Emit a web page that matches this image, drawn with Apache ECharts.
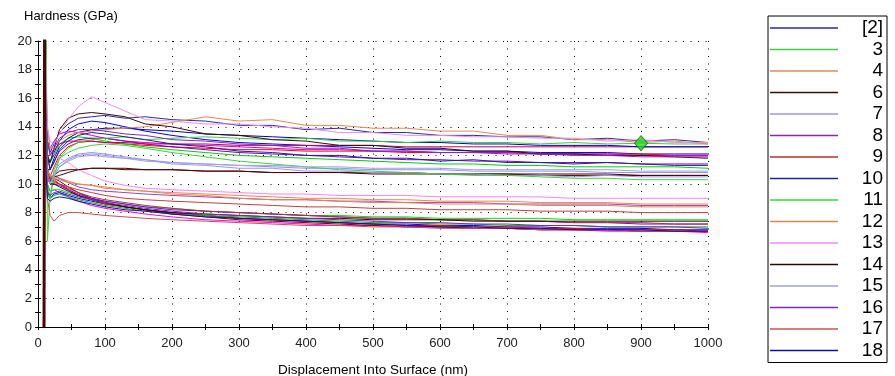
<!DOCTYPE html>
<html>
<head>
<meta charset="utf-8">
<script src="https://cdn.jsdelivr.net/npm/echarts@6/dist/echarts.min.js"></script>
<style>
html,body{margin:0;padding:0;background:#fff;}
#chart{width:895px;height:376px;}
</style>
</head>
<body>
<div id="chart"></div>
<script>
// Displacement sample positions (nm)
const xs = [9, 10, 12, 14, 18, 24, 32, 45, 60, 80, 100, 130, 160, 200, 250, 300, 350, 400, 450, 500, 550, 600, 650, 700, 750, 800, 850, 900, 950, 1000];

// Legend names
const legendNames = ['[2]', '3', '4', '6', '7', '8', '9', '10', '11', '12', '13', '14', '15', '16', '17', '18'];

// Hardness (GPa) per test, legend series
const h2  = [null,25,16,13,12.2,12.8,13.6,14.2,14.6,14.7,14.8,14.6,14.7,14.5,14.4,14.1,14.1,13.8,13.9,13.6,13.6,13.4,13.4,13.3,13.3,13.1,13.2,13.0,13.1,12.9];
const h3  = [null,25,20,10,9,10.5,11.8,12.5,12.9,13.1,13.2,13.3,13.1,13.2,13.3,13.2,13.1,13.2,13.0,13.0,12.9,13.0,12.9,12.9,12.8,12.9,12.8,12.85,12.8,12.8];
const h4  = [null,25,17,14,12.5,12.6,13.0,13.4,13.6,13.7,13.8,13.9,14.0,14.3,14.7,14.4,14.5,14.1,14.1,13.9,13.9,13.7,13.7,13.4,13.4,13.1,13.1,12.9,13.0,12.8];
const h6  = [null,25,15,12,11.5,12.5,13.8,14.6,14.9,15.0,14.9,14.7,14.2,14.0,13.5,13.4,13.1,13.0,12.7,12.7,12.5,12.5,12.3,12.3,12.1,12.1,12.0,12.0,11.9,11.8];
const h7  = [null,25,14,11,10,10.5,11.2,11.7,12.0,12.1,12.0,11.8,11.7,11.4,11.3,11.1,11.1,10.9,10.9,10.8,10.8,10.7,10.7,10.6,10.6,10.5,10.6,10.5,10.5,10.5];
const h8  = [null,25,16,13,12,12.5,13.2,13.6,13.8,13.8,13.7,13.5,13.4,13.1,13.0,12.8,12.7,12.5,12.5,12.3,12.3,12.2,12.2,12.1,12.1,12.0,12.0,11.9,11.9,11.9];
const h9  = [null,25,14,11,10.3,10.2,10.0,9.7,9.4,9.1,8.9,8.7,8.5,8.3,8.1,8.0,7.9,7.8,7.7,7.6,7.6,7.5,7.5,7.4,7.4,7.3,7.3,7.3,7.2,7.2];
const h10 = [null,25,15,12,11,11.5,12.4,13.0,13.4,13.6,13.5,13.3,13.1,12.8,12.6,12.3,12.2,12.0,12.0,11.8,11.8,11.6,11.7,11.5,11.5,11.4,11.5,11.4,11.3,11.3];
const h11 = [null,null,25,6,9,11,11.8,12.2,12.5,12.7,12.8,12.7,12.5,12.2,11.9,11.6,11.4,11.2,11.0,10.9,10.8,10.7,10.6,10.6,10.5,10.4,10.4,10.3,10.3,10.3];
const h12 = [null,25,13,11,10.5,10.4,10.3,10.1,10.0,9.9,9.8,9.6,9.5,9.3,9.2,9.0,8.9,8.9,8.8,8.7,8.7,8.6,8.6,8.6,8.5,8.5,8.5,8.4,8.4,8.4];
const h13 = [null,25,17,14,13,12.8,13.5,14.5,15.4,16.1,15.7,15.1,14.5,14.4,14.2,14.2,14.0,13.9,13.6,13.6,13.4,13.4,13.3,13.3,13.2,13.2,13.0,13.1,12.9,12.9];
const h14 = [null,25,13,10.5,10,10,9.8,9.5,9.2,8.9,8.7,8.4,8.2,8.0,7.9,7.8,7.7,7.6,7.6,7.5,7.5,7.5,7.4,7.4,7.4,7.4,7.4,7.4,7.4,7.4];
const h15 = [null,25,13,10.5,10,10.6,11.2,11.6,11.9,12.0,11.9,11.8,11.6,11.5,11.4,11.3,11.3,11.2,11.2,11.1,11.1,11.1,11.0,11.0,11.0,11.0,11.0,10.9,10.9,10.9];
const h16 = [null,25,12,9.5,9.2,9.4,9.5,9.3,9.1,8.9,8.7,8.5,8.3,8.1,7.9,7.8,7.7,7.6,7.5,7.4,7.3,7.3,7.2,7.2,7.1,7.1,7.0,7.0,7.0,6.9];
const h17 = [null,25,12,9,7.8,7.4,7.8,8.0,8.0,7.9,7.8,7.7,7.6,7.5,7.4,7.3,7.2,7.1,7.1,7.0,7.0,6.9,6.9,6.9,6.8,6.8,6.8,6.7,6.7,6.7];
const h18 = [null,25,11,9,8.8,9.0,9.1,9.0,8.8,8.6,8.4,8.2,8.1,7.9,7.7,7.6,7.5,7.4,7.3,7.2,7.1,7.0,7.0,6.9,6.9,6.8,6.8,6.8,6.7,6.7];

// Additional tests (not listed in legend)
const e1  = [null,25,15,12,11.5,12.2,13.0,13.8,14.2,14.4,14.3,14.0,13.7,13.4,13.1,12.9,12.8,12.7,12.6,12.5,12.4,12.4,12.3,12.3,12.2,12.2,12.2,12.1,12.1,12.1];
const e2  = [null,25,14,11,10.5,11.2,12.0,12.6,12.9,13.0,12.9,12.8,12.7,12.6,12.5,12.4,12.4,12.3,12.3,12.3,12.2,12.2,12.2,12.2,12.1,12.1,12.1,12.1,12.0,12.0];
const e3  = [null,25,16,13,12.5,13,13.5,13.7,13.6,13.4,13.2,13.0,12.9,12.8,12.7,12.6,12.5,12.4,12.4,12.3,12.3,12.2,12.2,12.2,12.1,12.1,12.1,12.0,12.0,12.0];
const e4  = [null,25,13,10.5,10.2,10.6,10.9,11.0,11.0,11.1,11.1,11.0,11.0,11.0,10.9,10.9,10.8,10.8,10.8,10.8,10.8,10.7,10.7,10.7,10.7,10.7,10.7,10.6,10.6,10.6];
const e5  = [null,25,15,12,11.5,12,12.8,13.2,13.3,13.2,13.0,12.8,12.6,12.4,12.2,12.0,11.9,11.8,11.7,11.6,11.5,11.4,11.4,11.3,11.3,11.2,11.2,11.2,11.2,11.1];
const e6  = [null,25,15,12,11,11.6,12.3,12.8,13.1,13.2,13.2,13.0,12.8,12.6,12.4,12.2,12.1,12.0,11.9,11.8,11.7,11.7,11.6,11.6,11.5,11.5,11.5,11.4,11.4,11.4];
const e7  = [null,25,14,12,12,12.4,12.8,13.0,13.0,13.0,12.9,12.9,12.8,12.8,12.8,12.7,12.7,12.7,12.7,12.7,12.6,12.6,12.6,12.6,12.6,12.6,12.6,12.6,12.6,12.6];
const e8  = [null,25,13,11,11,11.8,12.6,13.2,13.6,13.8,13.9,13.9,13.8,13.7,13.5,13.4,13.3,13.2,13.1,13.0,12.9,12.9,12.8,12.8,12.7,12.7,12.7,12.6,12.6,12.6];
const e9  = [null,25,13,11,10,10.8,11.4,11.8,12.1,12.2,12.1,11.9,11.7,11.5,11.4,11.3,11.2,11.1,11.1,11.0,11.0,11.0,10.9,10.9,10.9,10.9,10.8,10.8,10.8,10.8];
const e10 = [null,25,13,10,9.5,9.6,9.4,9.1,8.8,8.5,8.3,8.1,7.9,7.7,7.5,7.4,7.3,7.2,7.1,7.1,7.0,7.0,6.9,6.9,6.8,6.8,6.7,6.7,6.7,6.6];
const e11 = [null,25,12,9.5,9,9.3,9.4,9.2,9.0,8.8,8.6,8.4,8.2,8.0,7.8,7.6,7.5,7.4,7.3,7.2,7.2,7.1,7.1,7.0,7.0,6.9,6.9,6.9,6.8,6.8];
const e12 = [null,25,13,10,9.5,9.6,9.6,9.4,9.2,9.0,8.8,8.6,8.4,8.3,8.1,8.0,7.9,7.8,7.8,7.7,7.7,7.6,7.6,7.6,7.6,7.5,7.5,7.5,7.5,7.5];
const e13 = [null,25,14,11,10.5,10.3,10.0,9.6,9.2,8.9,8.6,8.4,8.2,8.0,7.8,7.6,7.5,7.4,7.3,7.2,7.1,7.1,7.0,7.0,6.9,6.9,6.8,6.8,6.8,6.7];
const e14 = [null,25,14,11,10.2,10.4,10.2,9.8,9.4,9.0,8.7,8.4,8.2,7.9,7.7,7.5,7.4,7.3,7.2,7.1,7.0,7.0,6.9,6.9,6.8,6.8,6.8,6.7,6.7,6.7];
const e15 = [null,25,14,11,10.6,10.5,10.4,10.2,10.0,9.9,9.7,9.6,9.5,9.4,9.3,9.2,9.1,9.0,9.0,8.9,8.9,8.8,8.8,8.8,8.7,8.7,8.7,8.6,8.6,8.6];
const e16 = [null,25,17,14,12.5,12,11.8,11.5,11.0,10.6,10.2,9.9,9.7,9.6,9.5,9.4,9.3,9.3,9.2,9.2,9.2,9.1,9.1,9.1,9.1,9.0,9.0,9.0,9.0,9.0];
const e17 = [null,25,13,10.5,10,10.1,10.0,9.8,9.6,9.4,9.2,9.0,8.9,8.8,8.7,8.6,8.5,8.4,8.4,8.3,8.3,8.2,8.2,8.2,8.1,8.1,8.1,8.0,8.0,8.0];
const e18 = [null,25,14,10.5,10,10,9.9,9.6,9.3,9.0,8.8,8.6,8.4,8.2,8.1,8.0,7.9,7.8,7.7,7.6,7.6,7.5,7.5,7.4,7.4,7.3,7.3,7.2,7.2,7.2];
const e19 = [null,25,12,9.2,9,9.2,9.3,9.1,8.9,8.7,8.5,8.3,8.1,7.9,7.8,7.7,7.6,7.5,7.4,7.3,7.3,7.2,7.2,7.1,7.1,7.1,7.0,7.0,7.0,7.0];
const e20 = [null,25,14,11,10.5,10.6,10.4,10.1,9.8,9.6,9.5,9.4,9.3,9.2,9.1,9.0,8.9,8.9,8.8,8.8,8.7,8.7,8.7,8.6,8.6,8.6,8.6,8.5,8.5,8.5];
const e21 = [0,25,14,11,10.4,10.5,10.6,10.8,11.0,11.1,11.1,11.1,11.0,11.0,10.9,10.9,10.8,10.8,10.8,10.7,10.7,10.7,10.7,10.7,10.6,10.6,10.6,10.6,10.6,10.6];
// Start-of-test spike (off-scale rise)
const spike = [0,25,null,null,null,null,null,null,null,null,null,null,null,null,null,null,null,null,null,null,null,null,null,null,null,null,null,null,null,null];

// Highlighted point on test 3
const markerPoint = [900, 12.85];

// Axis ranges / tick steps
const xMin = 0, xMax = 1000, xStep = 100;
const yMin = 0, yMax = 20, yStep = 2;

const legendSeries = [
  ['[2]', h2, '#2a2aa8'], ['3', h3, '#3ccf3c'], ['4', h4, '#e08a50'], ['6', h6, '#3a0c0c'],
  ['7', h7, '#9a9ae6'], ['8', h8, '#8a2aa8'], ['9', h9, '#b83030'], ['10', h10, '#20209a'],
  ['11', h11, '#40d040'], ['12', h12, '#d8895a'], ['13', h13, '#e890e8'], ['14', h14, '#2a0808'],
  ['15', h15, '#a0a0d8'], ['16', h16, '#7a2ac0'], ['17', h17, '#c85050'], ['18', h18, '#1010a0']
];
const extraSeries = [
  ['19', e1, '#0000ff'], ['20', e2, '#ff0000'], ['21', e3, '#d000d0'], ['22', e4, '#5a0000'],
  ['23', e5, '#00d000'], ['24', e6, '#8000c0'], ['25', e7, '#c00060'], ['26', e8, '#0000c0'],
  ['27', e9, '#9090ff'], ['28', e10, '#ff00ff'], ['29', e11, '#0000ff'], ['30', e12, '#00e000'],
  ['31', e13, '#ff0000'], ['32', e14, '#800000'], ['33', e15, '#ff8040'], ['34', e16, '#ff80ff'],
  ['35', e17, '#c04040'], ['36', e18, '#8000ff'], ['37', e19, '#00c000'], ['38', e20, '#a040c0'],
  ['39', e21, '#4a0505']
];

function toPairs(arr) {
  const out = [];
  arr.forEach((v, i) => { if (v !== null) out.push([xs[i], v]); });
  return out;
}
function lineSeries(name, arr, color, width) {
  return {
    name: name, type: 'line', xAxisIndex: 0, yAxisIndex: 0,
    data: toPairs(arr), showSymbol: false, symbol: 'none',
    lineStyle: { color: color, width: width || 1 }, itemStyle: { color: color },
    emphasis: { disabled: true }, animation: false, clip: true, z: 2
  };
}

const series = [];
extraSeries.forEach(s => series.push(lineSeries(s[0], s[1], s[2])));
legendSeries.forEach(s => series.push(lineSeries(s[0], s[1], s[2])));
series.push(lineSeries('40', spike, '#4a0505', 3));
series.push({
  name: 'marker', type: 'scatter', xAxisIndex: 0, yAxisIndex: 0,
  data: [markerPoint], symbol: 'diamond', symbolSize: [13, 15],
  itemStyle: { color: '#22dd22', borderColor: '#0a7a0a', borderWidth: 1 }, z: 5, animation: false
});

const FONT = 'Liberation Sans, Arial, sans-serif';
const dotted = { type: [1, 6.5], color: '#000', width: 1 };

const chart = echarts.init(document.getElementById('chart'), null, { renderer: 'canvas' });
chart.setOption({
  animation: false,
  backgroundColor: '#fff',
  grid: { left: 38, right: 187, top: 41, bottom: 49, containLabel: false, outerBoundsMode: 'none' },
  legend: {
    data: legendNames, orient: 'vertical', left: 768, top: 16,
    width: 119, padding: [2, 4, 2, 2], itemGap: 1.5,
    itemWidth: 68, itemHeight: 1.5, icon: 'rect',
    borderColor: '#000', borderWidth: 1, selectedMode: false,
    formatter: '{a|{name}}',
    textStyle: {
      fontFamily: FONT, fontSize: 19, color: '#000', lineHeight: 20,
      rich: { a: { width: 40, align: 'right', fontFamily: FONT, fontSize: 19, lineHeight: 20, color: '#000' } }
    }
  },
  xAxis: [{
    type: 'value', min: xMin, max: xMax, interval: xStep,
    name: 'Displacement Into Surface (nm)', nameLocation: 'middle', nameGap: 36,
    nameTextStyle: { fontFamily: FONT, fontSize: 13.5, color: '#000' },
    axisLine: { show: true, onZero: false, lineStyle: { color: '#000', width: 1 } },
    axisTick: { show: true, inside: false, length: 3, lineStyle: { color: '#000' } },
    minorTick: { show: true, splitNumber: 2, length: 3, lineStyle: { color: '#000' } },
    axisLabel: { fontFamily: FONT, fontSize: 13, color: '#222', margin: 10, formatter: v => String(v) },
    splitLine: { show: true, lineStyle: dotted }
  }, {
    type: 'value', min: xMin, max: xMax, interval: xStep, position: 'bottom',
    axisLine: { show: false }, axisLabel: { show: false }, splitLine: { show: false },
    axisTick: { show: true, inside: true, length: 3, lineStyle: { color: '#000' } },
    minorTick: { show: true, splitNumber: 2, length: 3, lineStyle: { color: '#000' } }
  }],
  yAxis: [{
    type: 'value', min: yMin, max: yMax, interval: yStep,
    axisLine: { show: true, onZero: false, lineStyle: { color: '#000', width: 1 } },
    axisTick: { show: true, inside: false, length: 3, lineStyle: { color: '#000' } },
    minorTick: { show: true, splitNumber: 2, length: 3, lineStyle: { color: '#000' } },
    axisLabel: { fontFamily: FONT, fontSize: 13, color: '#222', margin: 6, formatter: v => String(v) },
    splitLine: { show: true, lineStyle: dotted }
  }, {
    type: 'value', min: yMin, max: yMax, interval: yStep, position: 'left',
    axisLine: { show: false }, axisLabel: { show: false }, splitLine: { show: false },
    axisTick: { show: true, inside: true, length: 3, lineStyle: { color: '#000' } },
    minorTick: { show: true, splitNumber: 2, length: 3, lineStyle: { color: '#000' } }
  }],
  graphic: [{
    type: 'text', left: 24, top: 10,
    style: { text: 'Hardness (GPa)', fontFamily: FONT, fontSize: 13, fill: '#000' }
  }],
  series: series
});
</script>
</body>
</html>
